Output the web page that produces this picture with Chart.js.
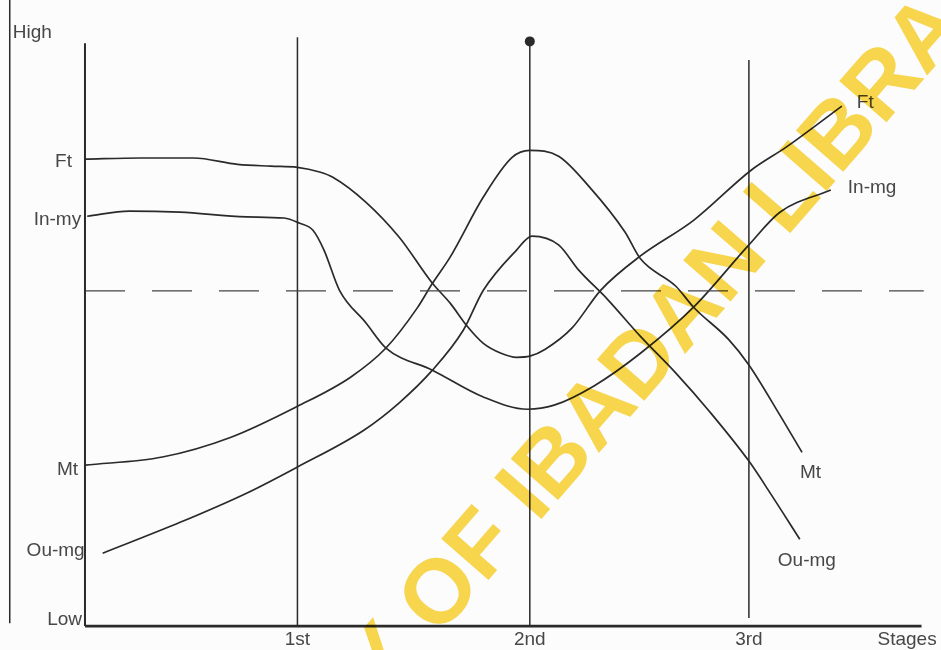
<!DOCTYPE html>
<html>
<head>
<meta charset="utf-8">
<script src="https://cdn.jsdelivr.net/npm/chart.js@4"></script>
<style>
  html, body { margin: 0; padding: 0; background: #fcfcfc; }
  #zoneChart { display: block; }
</style>
</head>
<body>
<canvas id="zoneChart" width="941" height="650"></canvas>
<script>
/* Stages (x axis) */
const stageNames = ['1st', '2nd', '3rd']
const stageX = [0.96, 2.01, 3.00]
const stageTop = [10.1, 10.03, 9.71]
const axisEnd = 3.78
const axisTop = 10.0
const threshold = 5.75

/* Curves */
const ftX = [0, 0.25, 0.49, 0.69, 0.84, 0.96, 1.06, 1.12, 1.27, 1.42, 1.57, 1.65, 1.73, 1.80, 1.88, 1.95, 2.01, 2.08, 2.20, 2.33, 2.51, 2.75, 3.01, 3.17, 3.42]
const ftY = [8.01, 8.03, 8.03, 7.92, 7.89, 7.87, 7.79, 7.70, 7.27, 6.67, 5.88, 5.54, 5.13, 4.85, 4.68, 4.61, 4.63, 4.75, 5.11, 5.76, 6.35, 6.96, 7.82, 8.22, 8.92]

const inX = [0.01, 0.20, 0.43, 0.73, 0.90, 0.97, 1.03, 1.08, 1.15, 1.27, 1.36, 1.57, 1.80, 2.00, 2.12, 2.30, 2.51, 2.75, 3.00, 3.14, 3.37]
const inY = [7.03, 7.12, 7.10, 7.02, 7.00, 6.91, 6.79, 6.45, 5.76, 5.20, 4.77, 4.39, 3.93, 3.72, 3.79, 4.12, 4.68, 5.47, 6.54, 7.10, 7.48]

const mtX = [0, 0.35, 0.66, 0.96, 1.20, 1.36, 1.50, 1.57, 1.65, 1.80, 1.93, 2.01, 2.14, 2.28, 2.44, 2.51, 2.67, 2.75, 2.91, 3.00, 3.14, 3.24]
const mtY = [2.76, 2.90, 3.24, 3.77, 4.27, 4.77, 5.45, 5.88, 6.33, 7.36, 8.04, 8.16, 8.06, 7.53, 6.76, 6.30, 5.83, 5.47, 4.91, 4.48, 3.62, 2.98]

const ouX = [0.08, 0.43, 0.73, 0.96, 1.26, 1.42, 1.57, 1.71, 1.80, 1.95, 2.02, 2.14, 2.23, 2.36, 2.51, 2.67, 2.82, 3.00, 3.10, 3.23]
const ouY = [1.25, 1.78, 2.28, 2.73, 3.36, 3.83, 4.39, 5.08, 5.76, 6.45, 6.69, 6.54, 6.11, 5.61, 4.97, 4.34, 3.69, 2.83, 2.26, 1.49]

const leftNames = ['Ft', 'In-my', 'Mt', 'Ou-mg']
const rightNames = ['Ft', 'In-mg', 'Mt', 'Ou-mg']

/* label offsets in px, from first / last point */
const leftOffset = [[-13, 8], [-6, 9], [-7, 10], [-18, 3]]
const rightOffset = [[15, 2], [17, 3], [-2, 26], [-22, 27]]

const ink = '#2a2a2a'
const textInk = '#474747'
const font = '19px "Liberation Sans", Arial, sans-serif'

const toPoints = (xs, ys) => xs.map((x, i) => ({ x: x, y: ys[i] }))

const curve = (xs, ys) => ({
  data: toPoints(xs, ys),
  borderColor: ink,
  borderWidth: 1.7,
  pointRadius: 0,
  cubicInterpolationMode: 'monotone',
  fill: false,
})

const straight = (pts, width, extra) => Object.assign({
  data: pts,
  borderColor: ink,
  borderWidth: width,
  pointRadius: 0,
  tension: 0,
  fill: false,
}, extra || {})

const curves = [curve(ftX, ftY), curve(inX, inY), curve(mtX, mtY), curve(ouX, ouY)]

const frame = [
  straight([{ x: 0, y: 0 }, { x: axisEnd, y: 0 }], 2.6),
  straight([{ x: 0, y: 0 }, { x: 0, y: axisTop }], 2),
  straight([{ x: -0.34, y: 0.05 }, { x: -0.34, y: 10.74 }], 1.5),
  straight([{ x: 0, y: threshold }, { x: axisEnd + 0.01, y: threshold }], 1.2, { borderDash: [40, 27], borderColor: '#444' }),
]
stageX.forEach((x, i) => {
  const bottom = i === 2 ? 0.14 : 0
  frame.push(straight([{ x: x, y: bottom }, { x: x, y: stageTop[i] }], 1.5, {
    pointRadius: i === 1 ? [0, 5] : 0,
    pointBackgroundColor: ink,
    pointBorderWidth: 0,
  }))
})

/* Fond, filigrane et textes */
const paper = {
  id: 'paper',
  beforeDraw: chart => {
    const ctx = chart.ctx
    ctx.save()
    ctx.fillStyle = '#fcfcfc'
    ctx.fillRect(0, 0, chart.width, chart.height)
    ctx.restore()
  },
  afterDatasetsDraw: chart => {
    const ctx = chart.ctx
    const xs = chart.scales.x
    const ys = chart.scales.y
    ctx.save()
    ctx.fillStyle = textInk
    ctx.font = font
    ctx.textBaseline = 'alphabetic'

    ctx.textAlign = 'right'
    curves.forEach((c, i) => {
      const p = c.data[0]
      ctx.fillText(leftNames[i], xs.getPixelForValue(p.x) + leftOffset[i][0], ys.getPixelForValue(p.y) + leftOffset[i][1])
    })
    ctx.textAlign = 'left'
    curves.forEach((c, i) => {
      const p = c.data[c.data.length - 1]
      ctx.fillText(rightNames[i], xs.getPixelForValue(p.x) + rightOffset[i][0], ys.getPixelForValue(p.y) + rightOffset[i][1])
    })

    const base = ys.getPixelForValue(0)
    ctx.textAlign = 'center'
    stageNames.forEach((s, i) => ctx.fillText(s, xs.getPixelForValue(stageX[i]), base + 19))
    ctx.textAlign = 'left'
    ctx.fillText('Stages', xs.getPixelForValue(axisEnd) - 44, base + 19)

    ctx.fillText('High', xs.getPixelForValue(-0.34) + 3, ys.getPixelForValue(axisTop) - 5)
    ctx.textAlign = 'right'
    ctx.fillText('Low', xs.getPixelForValue(0) - 3, base - 1)
    ctx.restore()
  },
  afterDraw: chart => {
    const ctx = chart.ctx
    ctx.save()
    ctx.globalCompositeOperation = 'multiply'
    ctx.translate(438, 638)
    ctx.rotate(-49 * Math.PI / 180)
    ctx.fillStyle = 'rgb(250, 216, 78)'
    ctx.font = 'bold 91px "Liberation Sans", Arial, sans-serif'
    ctx.textAlign = 'left'
    ctx.fillText('OF IBADAN LIBRARY', 0, 0)
    ctx.textAlign = 'right'
    ctx.fillText('UNIVERSITY ', 0, 0)
    ctx.restore()
  }
}

window.simChart = new Chart(document.querySelector('#zoneChart'), {
  type: 'line',
  data: { datasets: frame.concat(curves) },
  options: {
    responsive: false,
    animation: false,
    events: [],
    layout: { padding: 0, autoPadding: false },
    plugins: { legend: { display: false }, tooltip: { enabled: false } },
    scales: {
      x: { type: 'linear', min: -0.384, max: 3.868, display: false },
      y: { type: 'linear', min: -0.41, max: 10.74, display: false }
    }
  },
  plugins: [paper]
})
</script>
</body>
</html>
